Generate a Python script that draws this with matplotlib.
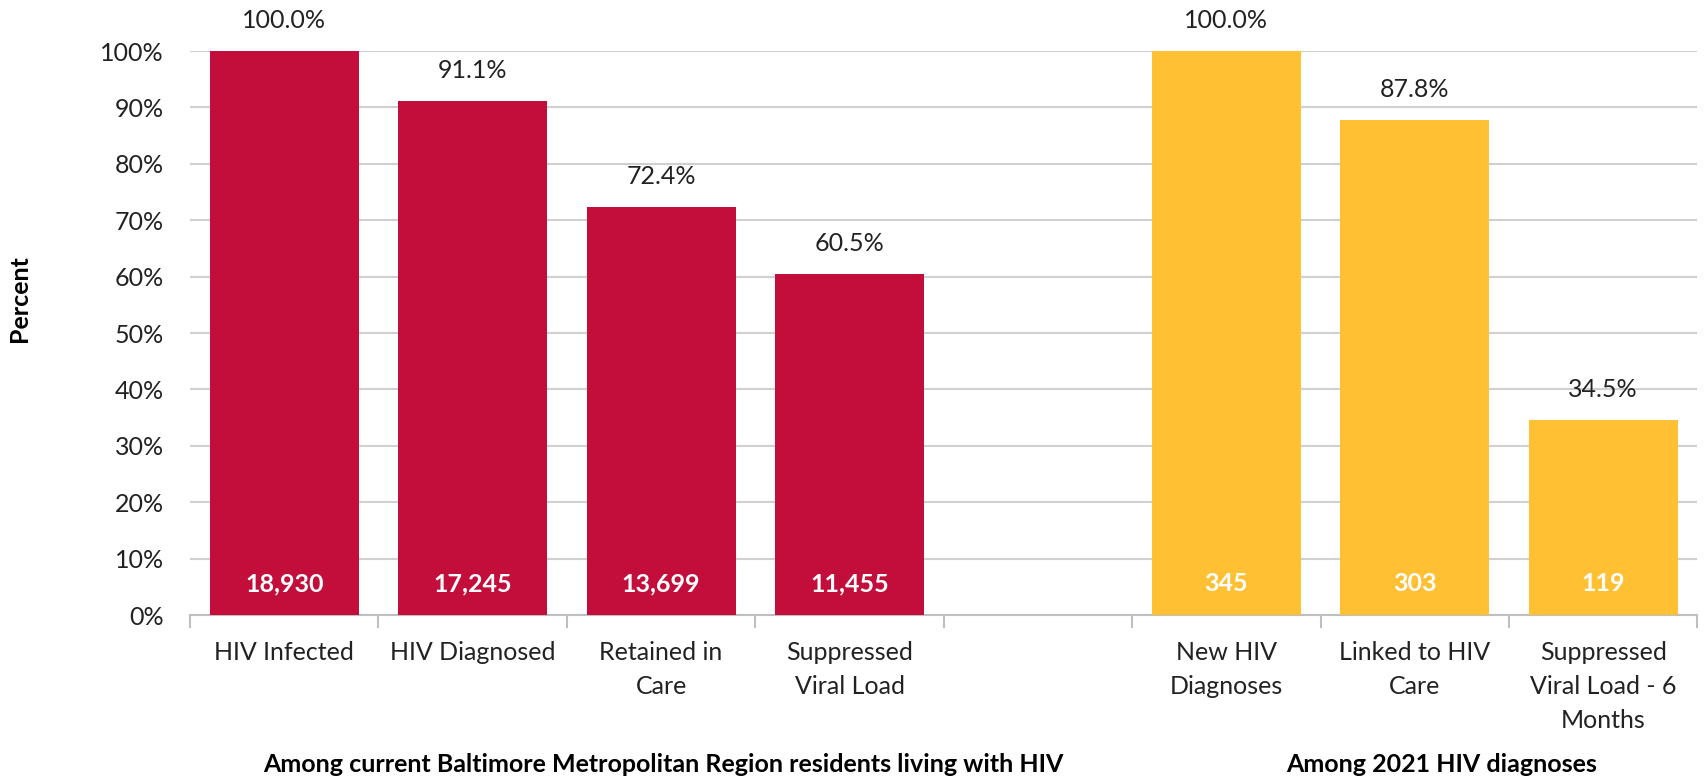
import matplotlib.pyplot as plt

plt.rcParams['font.family'] = ['Lato', 'DejaVu Sans']

# data
care_labels = ["HIV Infected", "HIV Diagnosed", "Retained in\nCare", "Suppressed\nViral Load"]
care_pct = [100.0, 91.1, 72.4, 60.5]
care_counts = [18930, 17245, 13699, 11455]

new_labels = ["New HIV\nDiagnoses", "Linked to HIV\nCare", "Suppressed\nViral Load - 6\nMonths"]
new_pct = [100.0, 87.8, 34.5]
new_counts = [345, 303, 119]

group_titles = ["Among current Baltimore Metropolitan Region residents living with HIV",
                "Among 2021 HIV diagnoses"]

red = "#C30E3B"
yellow = "#FFC033"
fs = 18

care_x = list(range(len(care_labels)))
new_x = [len(care_labels) + 1 + i for i in range(len(new_labels))]
n_slots = len(care_labels) + 1 + len(new_labels)

fig = plt.figure(figsize=(17.06, 7.78), dpi=100)
ax = fig.add_axes([0.1114, 0.2095, 0.8836, 0.7249])

ax.bar(care_x, care_pct, width=0.79, color=red, zorder=3)
ax.bar(new_x, new_pct, width=0.79, color=yellow, zorder=3)

for xs, pcts, counts in [(care_x, care_pct, care_counts), (new_x, new_pct, new_counts)]:
    for x, p, c in zip(xs, pcts, counts):
        ax.annotate(f"{p:.1f}%", (x, p), xytext=(0, 22), textcoords="offset points",
                    ha="center", va="center", fontsize=fs, color="#222222")
        ax.text(x, 5.5, f"{c:,}", ha="center", va="center", fontsize=fs,
                color="white", fontweight="bold", zorder=4)

ax.set_xlim(-0.5, n_slots - 0.5)
ax.set_ylim(0, 100)
ax.set_yticks(range(0, 101, 10))
ax.set_yticklabels([f"{v}%" for v in range(0, 101, 10)], fontsize=fs, color="#222222")
ax.tick_params(axis="y", length=0, pad=19)
ax.yaxis.grid(True, color="#D0D0D0", linewidth=1.5)
ax.set_axisbelow(True)

# boundary ticks (major) and category labels (minor)
ax.set_xticks([i - 0.5 for i in range(n_slots + 1)])
ax.set_xticklabels([])
ax.tick_params(axis="x", which="major", length=9, width=1.5, color="#BFBFBF")
ax.set_xticks(care_x + [len(care_labels)] + new_x,
              care_labels + [""] + new_labels, minor=True)
ax.tick_params(axis="x", which="minor", length=0, pad=19, labelsize=fs, labelcolor="#222222")
for lbl in ax.get_xticklabels(minor=True):
    lbl.set_linespacing(1.56)

for s in ["top", "right", "left"]:
    ax.spines[s].set_visible(False)
ax.spines["bottom"].set_color("#BFBFBF")
ax.spines["bottom"].set_linewidth(1.5)

fig.text(20 / 1706, 1 - 299 / 778, "Percent", rotation=90, ha="center", va="center",
         fontsize=fs, fontweight="bold")

fig.text(0.389, 0.008, group_titles[0], ha="center", va="baseline", fontsize=fs, fontweight="bold")
fig.text(0.845, 0.008, group_titles[1], ha="center", va="baseline", fontsize=fs, fontweight="bold")

fig.savefig("out.png", dpi=100)
